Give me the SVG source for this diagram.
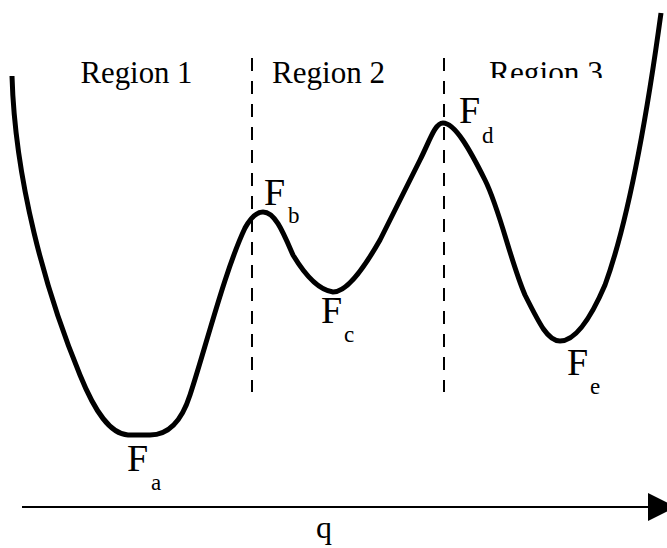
<svg xmlns="http://www.w3.org/2000/svg" width="667" height="548" viewBox="0 0 667 548">
  <defs>
    <style>
      .region { font-family: "Liberation Serif", "Times New Roman", serif; font-size: 32px; fill: #000; }
      .F { font-family: "Liberation Serif", "Times New Roman", serif; font-size: 38px; fill: #000; }
      .sub { font-family: "Liberation Serif", "Times New Roman", serif; font-size: 23px; fill: #000; }
      .divider { stroke: #000; stroke-width: 2; stroke-dasharray: 13 10; fill: none; }
      .curve { stroke: #000; stroke-width: 5; fill: none; stroke-linejoin: round; stroke-linecap: butt; }
      .axis { stroke: #000; stroke-width: 2.2; fill: none; }
    </style>
    <clipPath id="clipR3">
      <rect x="470" y="40" width="160" height="38"/>
    </clipPath>
  </defs>
  <rect x="0" y="0" width="667" height="548" fill="#fff"/>

  <g id="connectors">
    <line class="divider" x1="252" y1="58" x2="252" y2="392"/>
    <line class="divider" x1="444" y1="58" x2="444" y2="392"/>
    <path class="curve" d="M12,76 C15,180 45,290 80,375 C95,412 110,434 128,435 L150,435 C170,435 182,420 190,395 C205,350 225,270 245,228 C252,215 258,212 263,212 C275,212 283,232 293,255 C305,275 318,290 333,292 C345,292 360,275 380,240 C395,210 410,180 420,160 C430,140 435,123 443,123 C455,123 470,150 485,180 C500,210 510,260 525,295 C540,325 548,341 560,341 C575,341 590,320 605,285 C625,230 645,130 661,13"/>
    <line class="axis" x1="22" y1="507" x2="650" y2="507"/>
    <polygon points="648,493 648,521 676,507" fill="#000"/>
  </g>

  <g id="region1"><text class="region" x="80.5" y="83" textLength="112" lengthAdjust="spacingAndGlyphs">Region 1</text></g>
  <g id="region2"><text class="region" x="272" y="83" textLength="113" lengthAdjust="spacingAndGlyphs">Region 2</text></g>
  <g id="region3" clip-path="url(#clipR3)"><text class="region" x="489" y="83" textLength="114" lengthAdjust="spacingAndGlyphs">Region 3</text></g>

  <g id="Fa"><text class="F" x="127" y="471">F</text><text class="sub" x="151" y="490">a</text></g>
  <g id="Fb"><text class="F" x="264" y="205">F</text><text class="sub" x="288" y="223">b</text></g>
  <g id="Fc"><text class="F" x="321" y="323">F</text><text class="sub" x="344" y="342">c</text></g>
  <g id="Fd"><text class="F" x="459" y="123">F</text><text class="sub" x="482" y="143">d</text></g>
  <g id="Fe"><text class="F" x="567" y="375">F</text><text class="sub" x="590" y="394">e</text></g>

  <g id="q"><text class="region" x="316" y="538">q</text></g>
</svg>
